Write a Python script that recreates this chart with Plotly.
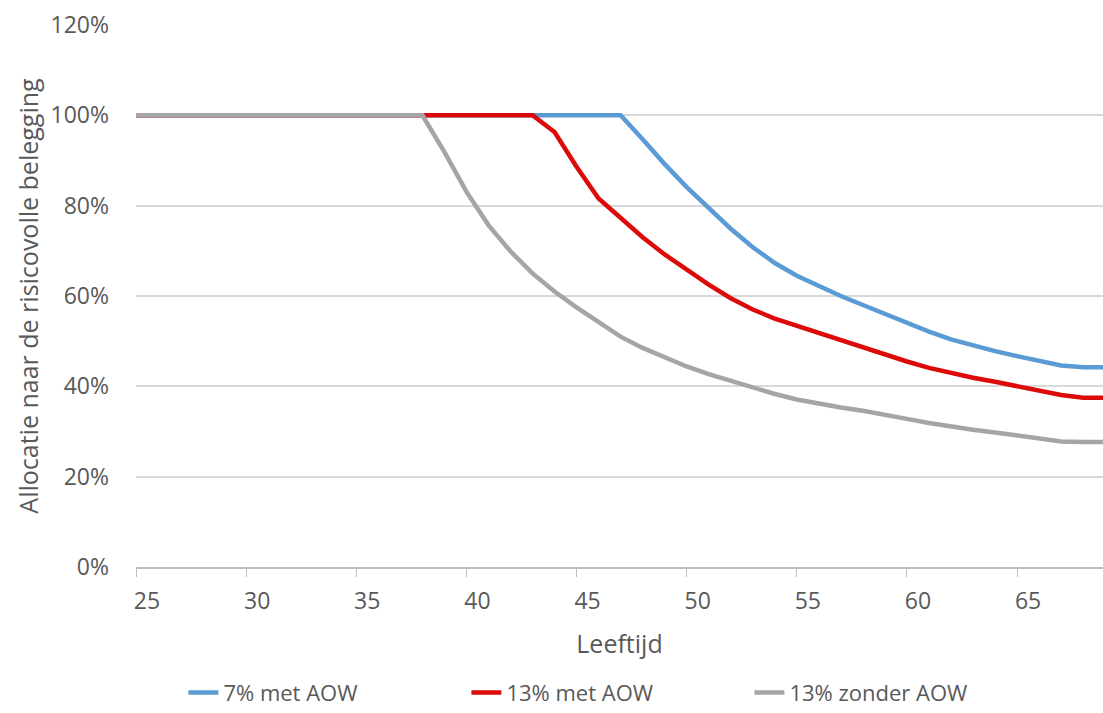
import plotly.graph_objects as go

ages = list(range(25, 70))

blue_7_met = [100]*23 + [94.7, 89.2, 84.1, 79.6, 74.9, 70.8, 67.3, 64.5, 62.2, 60.0,
                         58.0, 56.0, 54.0, 52.1, 50.4, 49.0, 47.8, 46.7, 45.6, 44.6, 44.2, 44.2]
red_13_met = [100]*19 + [96.3, 88.6, 81.6, 77.2, 73.0, 69.2, 65.8, 62.5, 59.5, 57.0,
                         55.0, 53.4, 51.9, 50.3, 48.7, 47.0, 45.5, 44.1, 42.9, 41.9,
                         41.0, 40.0, 39.1, 38.1, 37.5, 37.5]
gray_13_zonder = [100]*14 + [91.9, 83.1, 75.7, 69.9, 65.0, 61.0, 57.5, 54.2, 51.0, 48.5,
                             46.5, 44.4, 42.7, 41.2, 39.7, 38.3, 37.1, 36.1, 35.3, 34.6,
                             33.8, 32.8, 31.9, 31.1, 30.4, 29.8, 29.1, 28.4, 27.8, 27.7, 27.7]

series_names = ["7% met AOW", "13% met AOW", "13% zonder AOW"]
series_colors = ["#5B9BD5", "#DD0A0A", "#A5A5A5"]
series_values = [blue_7_met, red_13_met, gray_13_zonder]

y_ticks = [0, 20, 40, 60, 80, 100, 120]
y_tick_labels = ["0%", "20%", "40%", "60%", "80%", "100%", "120%"]
x_ticks = [25, 30, 35, 40, 45, 50, 55, 60, 65]

FONT = "Open Sans"
TXT = "#595959"

fig = go.Figure()
for name, col, vals in zip(series_names, series_colors, series_values):
    fig.add_trace(go.Scatter(x=ages, y=vals, mode="lines", name=name,
                             line=dict(color=col, width=4.5)))

fig.update_layout(
    width=1103, height=713,
    margin=dict(l=136, r=0, t=25, b=146, autoexpand=False),
    paper_bgcolor="white", plot_bgcolor="white",
    font=dict(family=FONT, size=24, color=TXT),
    showlegend=True,
    legend=dict(orientation="h", x=0.488, xanchor="center", y=-0.232, yanchor="middle",
                font=dict(family=FONT, size=22, color=TXT),
                entrywidth=238, itemwidth=30, traceorder="normal",
                bgcolor="rgba(0,0,0,0)"),
)
fig.update_xaxes(range=[25, 68.9], tickmode="array", tickvals=x_ticks,
                 showgrid=False, zeroline=False,
                 showline=True, linecolor="#BFBFBF", linewidth=1.5,
                 ticks="outside", ticklen=8, tickcolor="#BFBFBF", tickwidth=1,
                 ticklabelshift=11, ticklabelstandoff=5,
                 tickfont=dict(family=FONT, size=23, color=TXT),
                 title=dict(text="Leeftijd", font=dict(family=FONT, size=25, color=TXT), standoff=20))
fig.update_yaxes(range=[0, 120], tickmode="array", tickvals=y_ticks, ticktext=y_tick_labels,
                 showgrid=True, gridcolor="#D9D9D9", gridwidth=1.5,
                 zeroline=False, showline=False, ticks="",
                 ticklabelstandoff=26,
                 tickfont=dict(family=FONT, size=23, color=TXT),
                 title=dict(text="Allocatie naar de risicovolle belegging",
                            font=dict(family=FONT, size=25, color=TXT), standoff=4))

fig.write_html("out.html")
